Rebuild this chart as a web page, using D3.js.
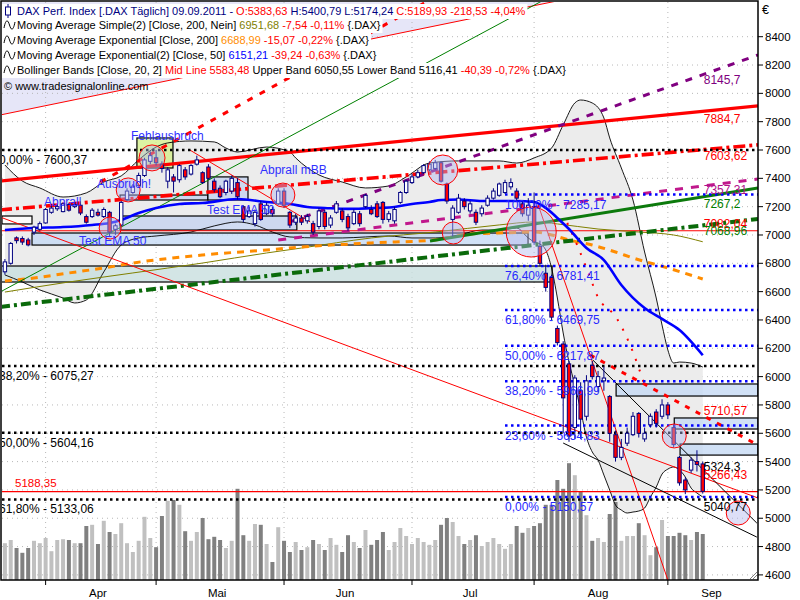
<!DOCTYPE html>
<html><head><meta charset="utf-8">
<script src="https://cdn.jsdelivr.net/npm/d3@7"></script>
<style>body{margin:0;background:#fff}svg{display:block}text{font-family:"Liberation Sans",Arial,sans-serif}</style>
</head><body><svg id="c" width="800" height="600"></svg>
<script>
// ---------------- DATA ----------------
const tradingDays = {
  "2011-03":[23,24,25,28,29,30,31],
  "2011-04":[1,4,5,6,7,8,11,12,13,14,15,18,19,20,21,26,27,28,29],
  "2011-05":[2,3,4,5,6,9,10,11,12,13,16,17,18,19,20,23,24,25,26,27,30,31],
  "2011-06":[1,2,3,6,7,8,9,10,13,14,15,16,17,20,21,22,23,24,27,28,29,30],
  "2011-07":[1,4,5,6,7,8,11,12,13,14,15,18,19,20,21,22,25,26,27,28,29],
  "2011-08":[1,2,3,4,5,8,9,10,11,12,15,16,17,18,19,22,23,24,25,26,29,30,31],
  "2011-09":[1,2,5,6,7,8,9]
};
const monthNames = {"2011-04":"Apr","2011-05":"Mai","2011-06":"Jun","2011-07":"Jul","2011-08":"Aug","2011-09":"Sep"};
const openP = [6740,6800,6980,6975,6965,7020,7040,7085,7160,7185,7165,7215,7200,7210,7130,7130,7160,7130,7160,7040,
7070,7250,7300,7350,7420,7520,7545,7500,7380,7410,7390,7460,7430,7500,7440,7480,7380,7330,7300,7310,
7370,7200,7130,7080,7220,7150,7180,7220,7310,7160,7090,7120,7100,7080,7060,7160,7070,7160,7170,7130,
7080,7150,7200,7180,7220,7230,7110,7100,7230,7300,7370,7410,7440,7460,7470,7510,7360,7110,7160,7240,
7170,7160,7150,7210,7260,7280,7300,7340,7310,7220,7140,7200,6920,6730,6700,6340,6230,6090,5640,5900,
5720,6080,5930,5970,5860,5590,5430,5530,5590,5740,5560,5660,5750,5720,5800,5640,5430,5270,5340,5400,5383.63];
const highP = [6830,6950,6990,6990,6980,7065,7095,7190,7210,7215,7230,7225,7230,7220,7145,7190,7185,7195,7170,7080,
7240,7330,7360,7440,7545,7590,7600,7520,7480,7430,7500,7480,7500,7560,7450,7500,7400,7350,7390,7420,
7400,7210,7200,7180,7240,7230,7200,7330,7330,7170,7150,7140,7150,7100,7190,7180,7140,7240,7190,7150,
7180,7170,7290,7210,7240,7240,7170,7200,7310,7390,7430,7460,7500,7520,7530,7520,7370,7210,7290,7260,
7240,7180,7210,7280,7330,7370,7390,7400,7330,7240,7260,7300,6960,6790,6720,6360,6250,6110,6010,5960,
6010,6110,6040,6070,5870,5620,5560,5640,5750,5750,5640,5740,5770,5840,5820,5660,5440,5290,5430,5480,5400.79];
const lowP = [6720,6790,6940,6930,6920,7000,7030,7080,7150,7170,7160,7165,7190,7140,7080,7120,7130,7120,6990,7000,
7060,7240,7290,7340,7410,7500,7490,7440,7330,7300,7370,7390,7420,7490,7360,7390,7300,7260,7280,7290,
7250,7090,7120,7060,7100,7140,7130,7210,7190,7050,7070,7070,7080,7000,7040,7040,7050,7150,7090,7030,
7070,7060,7190,7140,7120,7080,7090,7080,7220,7290,7360,7400,7430,7450,7460,7370,7220,6990,7150,7180,
7150,7070,7130,7200,7250,7270,7290,7320,7240,7130,7100,6930,6780,6600,6400,6220,5600,5540,5560,5560,
5690,5980,5890,5900,5540,5400,5410,5510,5580,5570,5540,5640,5640,5700,5700,5500,5230,5170,5320,5330,5174.24];
const closeP = [6810,6940,6960,6950,6930,7055,7080,7180,7190,7200,7220,7175,7215,7155,7090,7175,7140,7180,7020,7065,
7230,7310,7345,7420,7530,7560,7510,7470,7460,7380,7490,7410,7490,7530,7370,7400,7320,7270,7380,7400,
7270,7110,7170,7160,7110,7210,7150,7310,7210,7070,7120,7090,7130,7020,7170,7060,7120,7220,7110,7050,
7160,7080,7280,7150,7130,7110,7150,7180,7300,7380,7410,7440,7490,7500,7510,7380,7240,7190,7260,7200,
7220,7090,7190,7260,7310,7360,7370,7370,7260,7150,7210,6950,6800,6630,6420,6240,5850,5580,5990,5700,
5970,6000,6000,5990,5600,5430,5500,5600,5720,5600,5600,5720,5670,5800,5730,5520,5250,5200,5410,5380,5189.93];
const volume = [92,100,80,68,80,98,92,105,72,100,102,100,92,92,135,138,90,148,120,115,
142,92,70,98,158,105,82,160,198,200,188,122,98,120,155,102,108,100,80,98,
228,112,98,140,138,90,45,132,98,70,95,75,82,100,90,75,105,88,70,112,
95,80,125,88,100,120,75,95,130,110,90,105,95,88,100,138,155,145,110,90,
100,112,85,95,105,90,78,90,135,118,130,135,142,188,188,250,228,292,262,222,
162,98,105,95,165,195,98,110,110,142,112,62,82,150,110,110,118,112,100,120,115];

// Indicators (bar index -> value)
const bbUpperIdx = [0,3,6,10,14,17,20,23,26,28,32,36,38,40,45,49,50,54,58,62,66,69,73,78,85,88,91,94,96,98,99,101,103,104,106,108,110,112,113,114,115,116,118,120];
const bbUpper    = [7494,7381,7332,7268,7297,7374,7417,7530,7621,7650,7664,7657,7614,7586,7621,7586,7544,7424,7374,7332,7346,7410,7508,7523,7523,7508,7544,7614,7777,7932,7953,7932,7826,7685,7473,7247,6880,6555,6364,6188,6096,6103,6096,6068];
const bbLowerIdx = [0,3,6,10,12,14,17,20,23,26,32,36,40,43,46,49,54,58,62,66,70,74,78,82,85,88,90,91,92,93,94,95,96,97,98,99,100,101,102,103,104,105,106,107,108,109,110,111,112,113,114,115,116,117,118,119,120];
const bbLower    = [6718,6668,6612,6555,6520,6541,6739,6929,6979,6993,7021,7064,7092,7071,7021,6986,6979,6979,6986,6993,6979,6979,7000,7035,7035,7049,6979,6951,6936,6894,6767,6555,6308,6103,5941,5764,5573,5468,5411,5305,5199,5093,5058,5037,5044,5051,5072,5150,5220,5312,5347,5362,5340,5291,5213,5178,5150];
const ema50Idx = [0,5,10,15,18,20,23,26,30,34,40,45,49,52,55,59,64,67,70,73,75,78,82,85,88,91,93,95,97,100,103,106,110,113,116,120];
const ema50    = [7035,7049,7056,7071,7085,7106,7155,7191,7219,7226,7254,7233,7219,7198,7191,7184,7191,7198,7219,7233,7247,7251,7240,7240,7240,7233,7191,7120,7042,6908,6823,6647,6484,6407,6329,6151];
const sma200Idx = [0,11,22,34,45,51,63,74,85,91,95,102,109,115,120];
const sma200    = [6597,6668,6732,6802,6873,6908,6979,7021,7071,7092,7078,7042,7021,7000,6952];
const ema200Idx = [0,5,11,17,22,34,45,51,63,74,80,85,91,94,97,101,105,108,114,120];
const ema200    = [6675,6696,6732,6767,6802,6859,6894,6915,6944,6965,7007,7014,7021,7000,6965,6929,6880,6838,6767,6689];

// Drawn trend lines: [barIndex, value] points
const trendLines = {
  redThinTop:    [[-0.84,7847],[100.6,8700]],
  redUpper:      [[-0.84,7380],[129.5,7912]],
  redDashDot:    [[-0.84,7177],[129.5,7636]],
  purpleDash:    [[49.0,7092],[129.5,8271]],
  magentaDash:   [[47.0,6965],[129.5,7395]],
  greenSolid:    [[73.1,6958],[129.5,7332]],
  greenDashDot:  [[-0.84,6492],[129.5,7113]],
  greenThin:     [[-0.84,6597],[92.7,8660]],
  redLong:       [[-0.84,7127],[129.5,5143]],
  redSteep:      [[91.7,7212],[114.0,4564]],
  redChannel:    [[100.6,6153],[129.5,5517]],
  blackLower:    [[96.0,5531],[129.3,4867]],
  blackUpper:    [[101.1,6117],[129.3,4966]],
  redUpDash:     [[16.4,7374],[73.1,8660]],
  redPeak:       [[31.8,7600],[52.5,7092]],
  redDotCurve:   [[96.7,7085],[98.4,6929],[100.6,6703],[101.8,6576],[105.2,6413],[108.0,6173],[110.1,5926]]
};
const hLevels = {redH1:7030, redH2:5188.35};
const lavenderZone = [[-0.84,8700],[100.6,8700],[-0.84,7847]];
const fibBlack = [{pct:"0,00%",v:7600.37},{pct:"38,20%",v:6075.27},{pct:"50,00%",v:5604.16},{pct:"61,80%",v:5133.06}];
const fibBlue  = [{pct:"100,00%",v:7285.17},{pct:"76,40%",v:6781.41},{pct:"61,80%",v:6469.75},{pct:"50,00%",v:6217.87},{pct:"38,20%",v:5966.99},{pct:"23,60%",v:5654.83},{pct:"0,00%",v:5150.57}];
const fibBlueStart = 86;
// zones: [i0,i1,vTop,vBottom]
const zones = {
  boxA:[19.8,34.9,7282,7247], boxB:[34.9,41.8,7410,7247], boxC:[19.8,50.2,7134,7035],
  boxD:[4.66,89.96,7014,6929], boxE:[-0.5,4.66,7134,7078], boxF:[-0.84,94.1,6781,6668],
  boxFehl:[22.7,28.9,7685,7473], boxR1:[105.1,129.5,5948,5863], boxR2:[115.1,129.5,5708,5630], boxR3:[116.1,129.5,5524,5446]
};
const circles = [[25.3,7544],[21.2,7318],[18.1,7049],[47.8,7282],[75.3,7459],[77.1,7014],[90.5,7021],[115.1,5581],[126.1,5037]];
const circleR = [13,12,11,12,15,11,25,12,12];
const notes = [
  {t:"Fehlausbruch", i:21.68, v:7671},
  {t:"Ausbruch!", i:15.84, v:7332},
  {t:"Abprall", i:6.72, v:7205},
  {t:"Abprall mBB", i:43.87, v:7431},
  {t:"Test EMA 50", i:34.75, v:7148},
  {t:"Test EMA 50", i:12.74, v:6929}
];
const rightLabels = [
  {t:"8145,7", v:8145.7, c:"#800080", dy:11},
  {t:"7884,7", v:7884.7, c:"#ff0000", dy:13},
  {t:"7603,62", v:7603.62, c:"#ff0000", dy:11},
  {t:"7357,31", v:7357.31, c:"#b0108a", dy:10},
  {t:"7267,2", v:7267.2, c:"#008000", dy:11},
  {t:"7082,04", v:7082.04, c:"#ff0000", dy:5},
  {t:"7068,96", v:7068.96, c:"#008000", dy:10},
  {t:"5710,57", v:5710.57, c:"#ff0000", dy:-3},
  {t:"5324,3", v:5324.3, c:"#000000", dy:-1},
  {t:"5266,43", v:5266.43, c:"#ff0000", dy:-2},
  {t:"5040,77", v:5040.77, c:"#000000", dy:-1}
];
const priceTicks = [4600,4800,5000,5200,5400,5600,5800,6000,6200,6400,6600,6800,7000,7200,7400,7600,7800,8000,8200,8400];
const legendRows = [
  [["DAX Perf. Index [.DAX  Täglich] 09.09.2011 - ","#000080"],["O:5383,63","#ff0000"],[" H:5400,79 L:5174,24 ","#000080"],["C:5189,93 -218,53 -4,04%","#ff0000"]],
  [["Moving Average Simple(2) [Close, 200, Nein] ","#000000"],["6951,68","#808000"],[" -7,54 -0,11%","#ff0000"],[" {.DAX}","#000000"]],
  [["Moving Average Exponential [Close, 200] ","#000000"],["6688,99","#ff8c00"],[" -15,07 -0,22%","#ff0000"],[" {.DAX}","#000000"]],
  [["Moving Average Exponential(2) [Close, 50] ","#000000"],["6151,21","#0000ff"],[" -39,24 -0,63%","#ff0000"],[" {.DAX}","#000000"]],
  [["Bollinger Bands [Close, 20, 2] ","#000000"],["Mid Line 5583,48","#ff0000"],[" Upper Band 6050,55 Lower Band 5116,41 ","#000000"],["-40,39 -0,72%","#ff0000"],[" {.DAX}","#000000"]]
];
const copyright = "© www.tradesignalonline.com";

// ---------------- LAYOUT / STYLE ----------------
const P = {l:2, t:2, r:758, b:580};
const FS = 11.5, LFS = 11;
const svg = d3.select("#c");
const dates = [];
Object.keys(tradingDays).forEach(m => tradingDays[m].forEach(d => dates.push(m + "-" + String(d).padStart(2,"0"))));
const x = d3.scaleLinear().domain([-0.5,129.5]).range([P.l,P.r]);
const y = d3.scaleLinear().domain([4564,8645]).range([P.b,P.t]);
const yv = d3.scaleLinear().domain([0,300]).range([P.b,P.b-120]);
const N = dates.length;

svg.append("defs").append("clipPath").attr("id","pc").append("rect")
  .attr("x",P.l).attr("y",P.t).attr("width",P.r-P.l).attr("height",P.b-P.t);
const g = svg.append("g").attr("clip-path","url(#pc)");

// lavender zone
g.append("path").attr("d", d3.line().x(d=>x(d[0])).y(d=>y(d[1]))(lavenderZone)+"Z")
  .attr("fill","#e6e6f8");

// gridlines
const monthStarts = [];
dates.forEach((d,i)=>{ const m=d.slice(0,7); if(monthNames[m] && (i===0 || dates[i-1].slice(0,7)!==m)) monthStarts.push({m,i}); });
g.selectAll(".hg").data(priceTicks).join("line").attr("x1",P.l).attr("x2",P.r)
  .attr("y1",d=>y(d)).attr("y2",d=>y(d)).attr("stroke","#b8b8b8").attr("stroke-dasharray","1,4");
g.selectAll(".vg").data(monthStarts).join("line").attr("x1",d=>x(d.i)).attr("x2",d=>x(d.i))
  .attr("y1",P.t).attr("y2",P.b).attr("stroke","#b8b8b8").attr("stroke-dasharray","1,4");

// Bollinger fill
function interp(idx, vals){ return idx.map((k,j)=>[k,vals[j]]); }
const up = interp(bbUpperIdx,bbUpper), lo = interp(bbLowerIdx,bbLower);
const curve = d3.curveMonotoneX;
const upPath = d3.line().x(d=>x(d[0])).y(d=>y(d[1])).curve(curve);
const bbArea = upPath(up) + "L" + upPath(lo.slice().reverse()).slice(1) + "Z";
g.append("path").attr("d",bbArea).attr("fill","#ececec");

// volume
g.selectAll(".vol").data(volume).join("rect")
  .attr("x",(d,i)=>x(i)-2).attr("width",4).attr("y",d=>yv(d)).attr("height",d=>P.b-yv(d))
  .attr("fill",(d,i)=> closeP[i] < openP[i] ? "#808080" : "#c0c0c0");

// zones
const zoneStyle = {
  boxA:"#c6d3f0", boxB:"#c6d3f0", boxC:"#c6d3f0", boxD:"#c6d9f4", boxE:"#ffffff", boxF:"#c8dede",
  boxFehl:"#d4f08c", boxR1:"#c6d9f4", boxR2:"#c6d9f4", boxR3:"#c6d9f4"
};
Object.entries(zones).forEach(([k,z])=>{
  g.append("rect").attr("x",x(z[0])).attr("width",x(z[1])-x(z[0])).attr("y",y(z[2])).attr("height",y(z[3])-y(z[2]))
   .attr("fill",zoneStyle[k]).attr("fill-opacity",0.8).attr("stroke","#000").attr("stroke-width",1.2);
});

// Bollinger lines
g.append("path").attr("d",upPath(up)).attr("fill","none").attr("stroke","#000").attr("stroke-width",0.9);
g.append("path").attr("d",upPath(lo)).attr("fill","none").attr("stroke","#000").attr("stroke-width",0.9);

// horizontal levels
Object.entries(hLevels).forEach(([k,v])=>{
  g.append("line").attr("x1",P.l).attr("x2",P.r).attr("y1",y(v)).attr("y2",y(v)).attr("stroke","#ff0000").attr("stroke-width",1.2);
});

// moving averages
const ln = d3.line().x(d=>x(d[0])).y(d=>y(d[1])).curve(curve);
g.append("path").attr("d",ln(interp(sma200Idx,sma200))).attr("fill","none").attr("stroke","#808000").attr("stroke-width",1);
g.append("path").attr("d",ln(interp(ema200Idx,ema200))).attr("fill","none").attr("stroke","#ff8c00").attr("stroke-width",3).attr("stroke-dasharray","7,6");

// trend lines
const tlStyle = {
  redThinTop:{c:"#ff0000",w:1},
  redUpper:{c:"#ff0000",w:3.2},
  redDashDot:{c:"#ff0000",w:3.6,d:"12,4,3,4"},
  purpleDash:{c:"#800080",w:3,d:"7,8"},
  magentaDash:{c:"#c0188c",w:3,d:"8,8"},
  greenSolid:{c:"#0c7a0c",w:3},
  greenDashDot:{c:"#0a6a0a",w:4,d:"10,4,3,4"},
  greenThin:{c:"#008000",w:1},
  redLong:{c:"#ff0000",w:1},
  redSteep:{c:"#ff0000",w:1},
  redChannel:{c:"#ff0000",w:3,d:"5,7"},
  blackLower:{c:"#000000",w:1},
  blackUpper:{c:"#000000",w:1},
  redUpDash:{c:"#ff0000",w:3,d:"6,8"},
  redPeak:{c:"#ff0000",w:1},
  redDotCurve:{c:"#ff0000",w:2,d:"2,9"}
};
const straight = d3.line().x(d=>x(d[0])).y(d=>y(d[1]));
Object.entries(trendLines).forEach(([k,pts])=>{
  const s = tlStyle[k];
  g.append("path").attr("d",(k==="redDotCurve"?ln:straight)(pts)).attr("fill","none")
   .attr("stroke",s.c).attr("stroke-width",s.w).attr("stroke-dasharray",s.d||null);
});

// EMA 50
g.append("path").attr("d",ln(interp(ema50Idx,ema50))).attr("fill","none").attr("stroke","#0000ff").attr("stroke-width",2.6);

// fib lines
fibBlack.forEach(f=>{
  g.append("line").attr("x1",P.l).attr("x2",P.r).attr("y1",y(f.v)).attr("y2",y(f.v))
   .attr("stroke","#000").attr("stroke-width",2.5).attr("stroke-dasharray","2.5,3.5");
});
fibBlue.forEach(f=>{
  g.append("line").attr("x1",x(fibBlueStart)).attr("x2",P.r).attr("y1",y(f.v)).attr("y2",y(f.v))
   .attr("stroke","#0000ff").attr("stroke-width",2.5).attr("stroke-dasharray","2.5,3.5");
});

// candles
const cg = g.append("g");
dates.forEach((d,i)=>{
  const cx = x(i);
  cg.append("line").attr("x1",cx).attr("x2",cx).attr("y1",y(highP[i])).attr("y2",y(lowP[i])).attr("stroke","#000080").attr("stroke-width",1);
  const top = y(Math.max(openP[i],closeP[i])), bot = y(Math.min(openP[i],closeP[i]));
  cg.append("rect").attr("x",cx-1.7).attr("width",3.4).attr("y",top).attr("height",Math.max(1,bot-top))
    .attr("fill", closeP[i]<openP[i] ? "#ff0000" : "#ffffff").attr("stroke","#000080").attr("stroke-width",1);
});

// circles
g.selectAll(".circ").data(circles).join("circle").attr("cx",d=>x(d[0])).attr("cy",d=>y(d[1]))
  .attr("r",(d,i)=>circleR[i]).attr("fill","#b4b8ee").attr("fill-opacity",0.45).attr("stroke","#ff0000").attr("stroke-width",1);

// fib labels
fibBlack.forEach(f=>{
  g.append("text").attr("x",P.l-3).attr("y",y(f.v)+14).attr("font-size",FS+0.5).attr("fill","#000").text(f.pct+" - "+f.v.toFixed(2).replace(".",","));
});
fibBlue.forEach(f=>{
  g.append("text").attr("x",x(fibBlueStart)).attr("y",y(f.v)+14).attr("font-size",FS+0.5).attr("fill","#2828ff").text(f.pct+" - "+f.v.toFixed(2).replace(".",","));
});
g.append("text").attr("x",P.l+13).attr("y",y(hLevels.redH2)-5).attr("font-size",FS).attr("fill","#ff0000").text("5188,35");

// notes
notes.forEach(n=>{
  g.append("text").attr("x",x(n.i)).attr("y",y(n.v)).attr("font-size",FS+0.5).attr("fill","#3030ff").text(n.t);
});
// right labels
rightLabels.forEach(r=>{
  g.append("text").attr("x",x(N-1)+1).attr("y",y(r.v)+r.dy).attr("font-size",FS+0.5).attr("fill",r.c).text(r.t);
});

// legend
const lg = svg.append("g");
const rowY = [11,25,40,55,70];
legendRows.forEach((row,ri)=>{
  const t = lg.append("text").attr("x",17).attr("y",rowY[ri]+4).attr("font-size",LFS);
  row.forEach(s=>t.append("tspan").attr("fill",s[1]).text(s[0]));
  const w = t.node().getComputedTextLength();
  lg.insert("rect","text").attr("x",P.l).attr("y",rowY[ri]-7).attr("width",w+17).attr("height",15).attr("fill","#fff");
  if(ri===0){
    lg.append("line").attr("x1",8).attr("x2",8).attr("y1",rowY[ri]-7).attr("y2",rowY[ri]+7).attr("stroke","#000080");
    lg.append("rect").attr("x",5.5).attr("y",rowY[ri]-4).attr("width",5).attr("height",8).attr("fill","#fff").attr("stroke","#000080");
  } else {
    lg.append("path").attr("d",`M4,${rowY[ri]+3} C6,${rowY[ri]-7} 8,${rowY[ri]-5} 9.5,${rowY[ri]} S13,${rowY[ri]+7} 15,${rowY[ri]-3}`)
      .attr("fill","none").attr("stroke","#000").attr("stroke-width",1);
  }
});
lg.append("text").attr("x",4).attr("y",90).attr("font-size",LFS).attr("fill","#000").text(copyright);

// axes
svg.append("rect").attr("x",P.l-1).attr("y",P.t-1).attr("width",P.r-P.l+1).attr("height",P.b-P.t+1).attr("fill","none").attr("stroke","#000").attr("stroke-width",1.5);
const ax = svg.append("g");
priceTicks.forEach(v=>{
  ax.append("line").attr("x1",P.r).attr("x2",P.r+5).attr("y1",y(v)).attr("y2",y(v)).attr("stroke","#000");
  ax.append("text").attr("x",P.r+7).attr("y",y(v)+4).attr("font-size",FS).text(v);
});
ax.append("text").attr("x",P.r+4).attr("y",14).attr("font-size",FS+1).text("€");
monthStarts.forEach((ms,k)=>{
  ax.append("line").attr("x1",x(ms.i)).attr("x2",x(ms.i)).attr("y1",P.b).attr("y2",P.b+5).attr("stroke","#000");
  const end = k<monthStarts.length-1 ? monthStarts[k+1].i-1 : 129;
  ax.append("text").attr("x",x((ms.i+end)/2)).attr("y",P.b+17).attr("font-size",FS).attr("text-anchor","middle").text(monthNames[ms.m]);
});
// resize grip
ax.append("path").attr("d",`M${P.r-8},${P.b-1} L${P.r-1},${P.b-8} M${P.r-5},${P.b-1} L${P.r-1},${P.b-5}`).attr("stroke","#808080");
</script></body></html>
